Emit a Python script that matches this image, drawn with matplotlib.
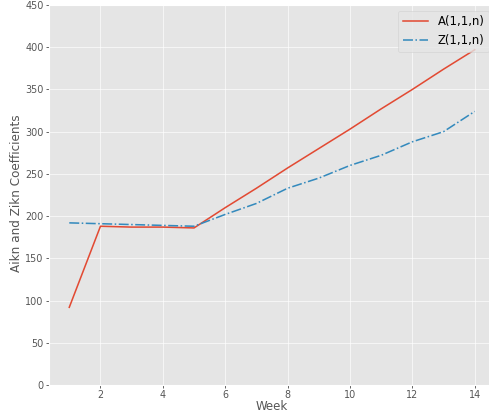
import matplotlib
matplotlib.use("Agg")
import matplotlib.pyplot as plt

weeks = [1, 2, 3, 4, 5, 6, 7, 8, 9, 10, 11, 12, 13, 14]
a_vals = [92, 188, 187, 187, 186, 210, 233, 257, 280, 303, 327, 350, 374, 397]
z_vals = [192, 191, 190, 189, 188, 202, 215, 233, 245, 260, 272, 288, 300, 324]

plt.style.use("ggplot")
DPI = 80
fig = plt.figure(figsize=(489/DPI, 419/DPI), dpi=DPI)
ax = fig.add_axes([49/489, 34/419, 446/489, 380/419])
ax.plot(weeks, a_vals, '-', label='A(1,1,n)', lw=1.4)
ax.plot(weeks, z_vals, '-.', label='Z(1,1,n)', lw=1.4)
ax.set_ylim(0, 450)
ax.set_xlim(0.35, 14.65)
ax.grid(True, color='white', linewidth=0.7, alpha=0.8)
ax.tick_params(labelsize=8.7, length=3, pad=1.8)
ax.set_xlabel('Week', labelpad=0, fontsize=10.6)
ax.set_ylabel('Aikn and Zikn Coefficients', fontsize=10.8)
ax.yaxis.set_label_coords(-26/446, 0.505)
ax.legend(loc='upper right', fontsize=10.5, handlelength=2.2)
fig.savefig('out.png', dpi=DPI)
